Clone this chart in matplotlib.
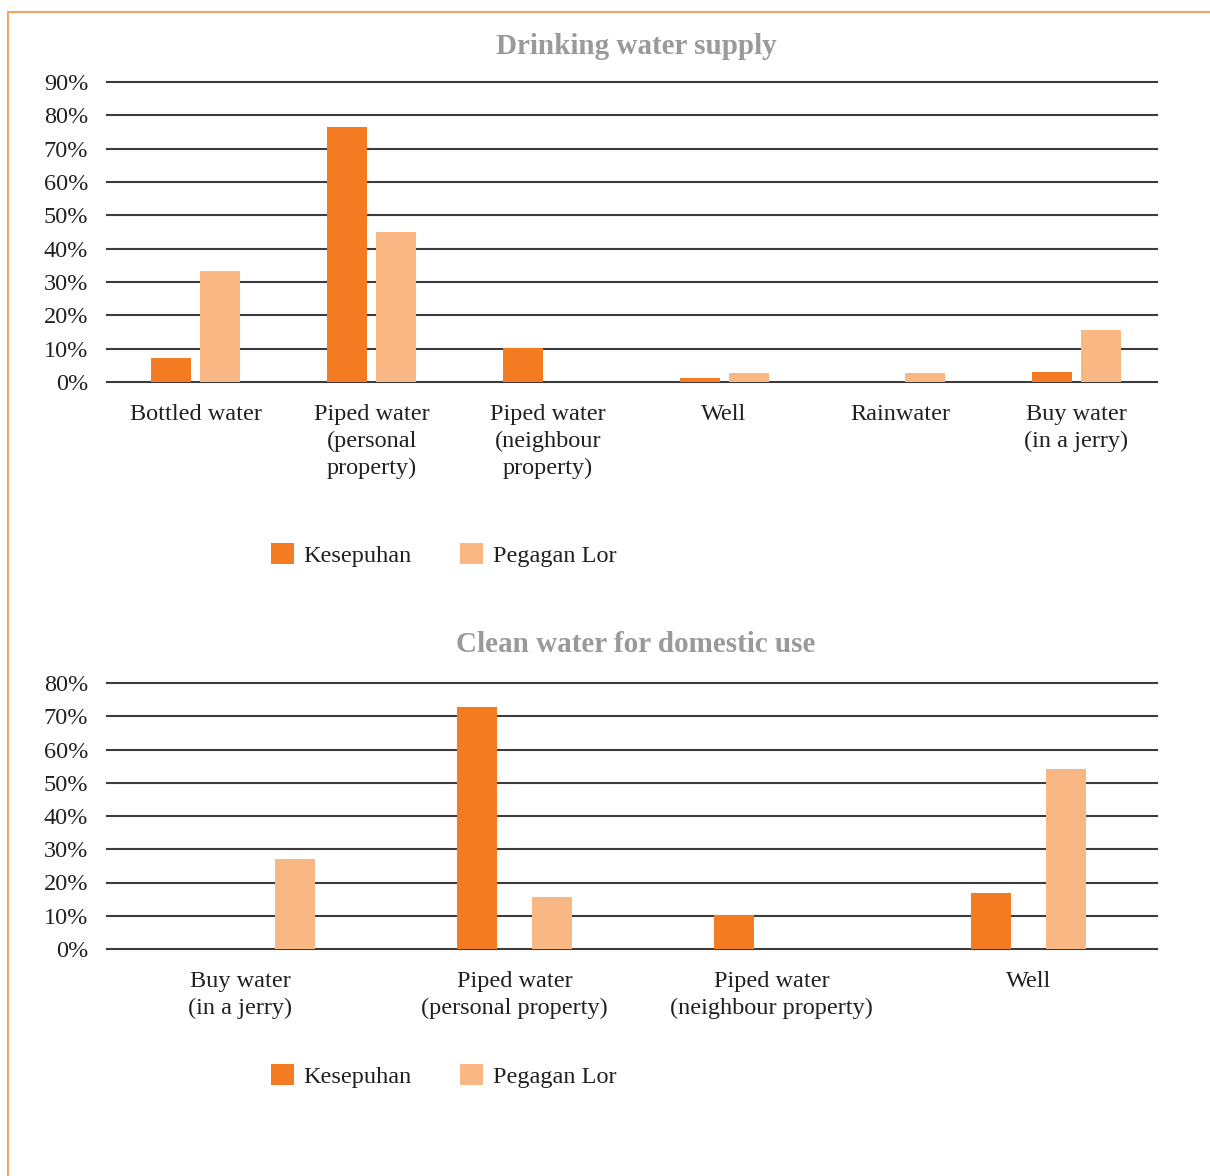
import matplotlib
matplotlib.use("Agg")
import matplotlib.pyplot as plt
import matplotlib.transforms as mtransforms
import numpy as np
from matplotlib.lines import Line2D
from matplotlib.patches import Patch

plt.rcParams['font.family'] = ['Liberation Serif', 'DejaVu Serif']

# ---- data ----
series = ["Kesepuhan", "Pegagan Lor"]

drink_cats = ["Bottled water", "Piped water\n(personal\nproperty)", "Piped water\n(neighbour\nproperty)",
              "Well", "Rainwater", "Buy water\n(in a jerry)"]
drink_kes = [7.2, 76.5, 10.2, 1.2, 0.0, 3.0]
drink_peg = [33.3, 45.0, 0.0, 2.7, 2.7, 15.6]

clean_cats = ["Buy water\n(in a jerry)", "Piped water\n(personal property)",
              "Piped water\n(neighbour property)", "Well"]
clean_kes = [0.0, 72.8, 10.2, 16.8]
clean_peg = [27.0, 15.6, 0.0, 54.1]

drink_ticks = [0, 10, 20, 30, 40, 50, 60, 70, 80, 90]
clean_ticks = [0, 10, 20, 30, 40, 50, 60, 70, 80]

# ---- style ----
C_K = "#F47B22"
C_P = "#F9B784"
GRID = "#3c3c3c"
TXT = "#231f20"
TITLE = "#9a9a9a"
BORDER = "#F5A263"
FS = 17.5

W, H = 1210, 1176
fig = plt.figure(figsize=(W / 100, H / 100), dpi=100)


def px_axes(x0, y0, x1, y1):
    return fig.add_axes([x0 / W, 1 - y1 / H, (x1 - x0) / W, (y1 - y0) / H])


def draw(ax, cats, kes, peg, ticks, xlim, off, width, title, title_y, leg_y):
    x = np.arange(len(cats))
    ax.set_axisbelow(True)
    ax.bar(x - off, kes, width, color=C_K, zorder=3)
    ax.bar(x + off, peg, width, color=C_P, zorder=3)
    ax.set_xlim(*xlim)
    ax.set_ylim(ticks[0], ticks[-1])
    ax.set_yticks(ticks)
    ax.set_yticklabels([f"{t}%" for t in ticks], fontsize=FS, color=TXT)
    ax.set_xticks(x)
    ax.set_xticklabels(cats, fontsize=FS, color=TXT, linespacing=1.36)
    ax.tick_params(axis='both', length=0)
    ax.tick_params(axis='y', pad=13.5)
    ax.tick_params(axis='x', pad=15.5)
    ax.yaxis.grid(True, color=GRID, lw=1.5)
    for s in ax.spines.values():
        s.set_visible(False)
    for gl in ax.get_ygridlines():
        gl.set_clip_on(False)
    fig.text(636 / W, 1 - title_y / H, title, ha='center', va='center',
             fontsize=21, fontweight='bold', color=TITLE)
    handles = [Patch(facecolor=C_K, edgecolor='none'), Patch(facecolor=C_P, edgecolor='none')]
    fig.legend(handles, series, loc='center left',
               bbox_to_anchor=(271 / W, 1 - leg_y / H), ncol=2, frameon=False,
               fontsize=FS, handlelength=0.95, handleheight=0.95, handletextpad=0.38,
               columnspacing=2.0, borderpad=0, borderaxespad=0, labelcolor=TXT)


ax1 = px_axes(107, 82, 1157, 382)
draw(ax1, drink_cats, drink_kes, drink_peg, drink_ticks, (-0.502, 5.457), 0.139, 0.227,
     "Drinking water supply", 46, 555)

ax2 = px_axes(107, 683, 1157, 949)
draw(ax2, clean_cats, clean_kes, clean_peg, clean_ticks, (-0.586, 3.5), 0.146, 0.156,
     "Clean water for domestic use", 644, 1076)
# first category label of the lower chart sits slightly left of its bar group
lbl0 = ax2.get_xticklabels()[0]
lbl0.set_transform(lbl0.get_transform() +
                   mtransforms.ScaledTranslation(-17.5 / 100, 0, fig.dpi_scale_trans))

# border
fig.add_artist(Line2D([8 / W, 1.0], [1 - 12 / H, 1 - 12 / H], color=BORDER, lw=1.5,
                      transform=fig.transFigure))
fig.add_artist(Line2D([8 / W, 8 / W], [1 - 12 / H, 0.0], color=BORDER, lw=1.5,
                      transform=fig.transFigure))

fig.savefig("out.png", dpi=100, facecolor="white")
